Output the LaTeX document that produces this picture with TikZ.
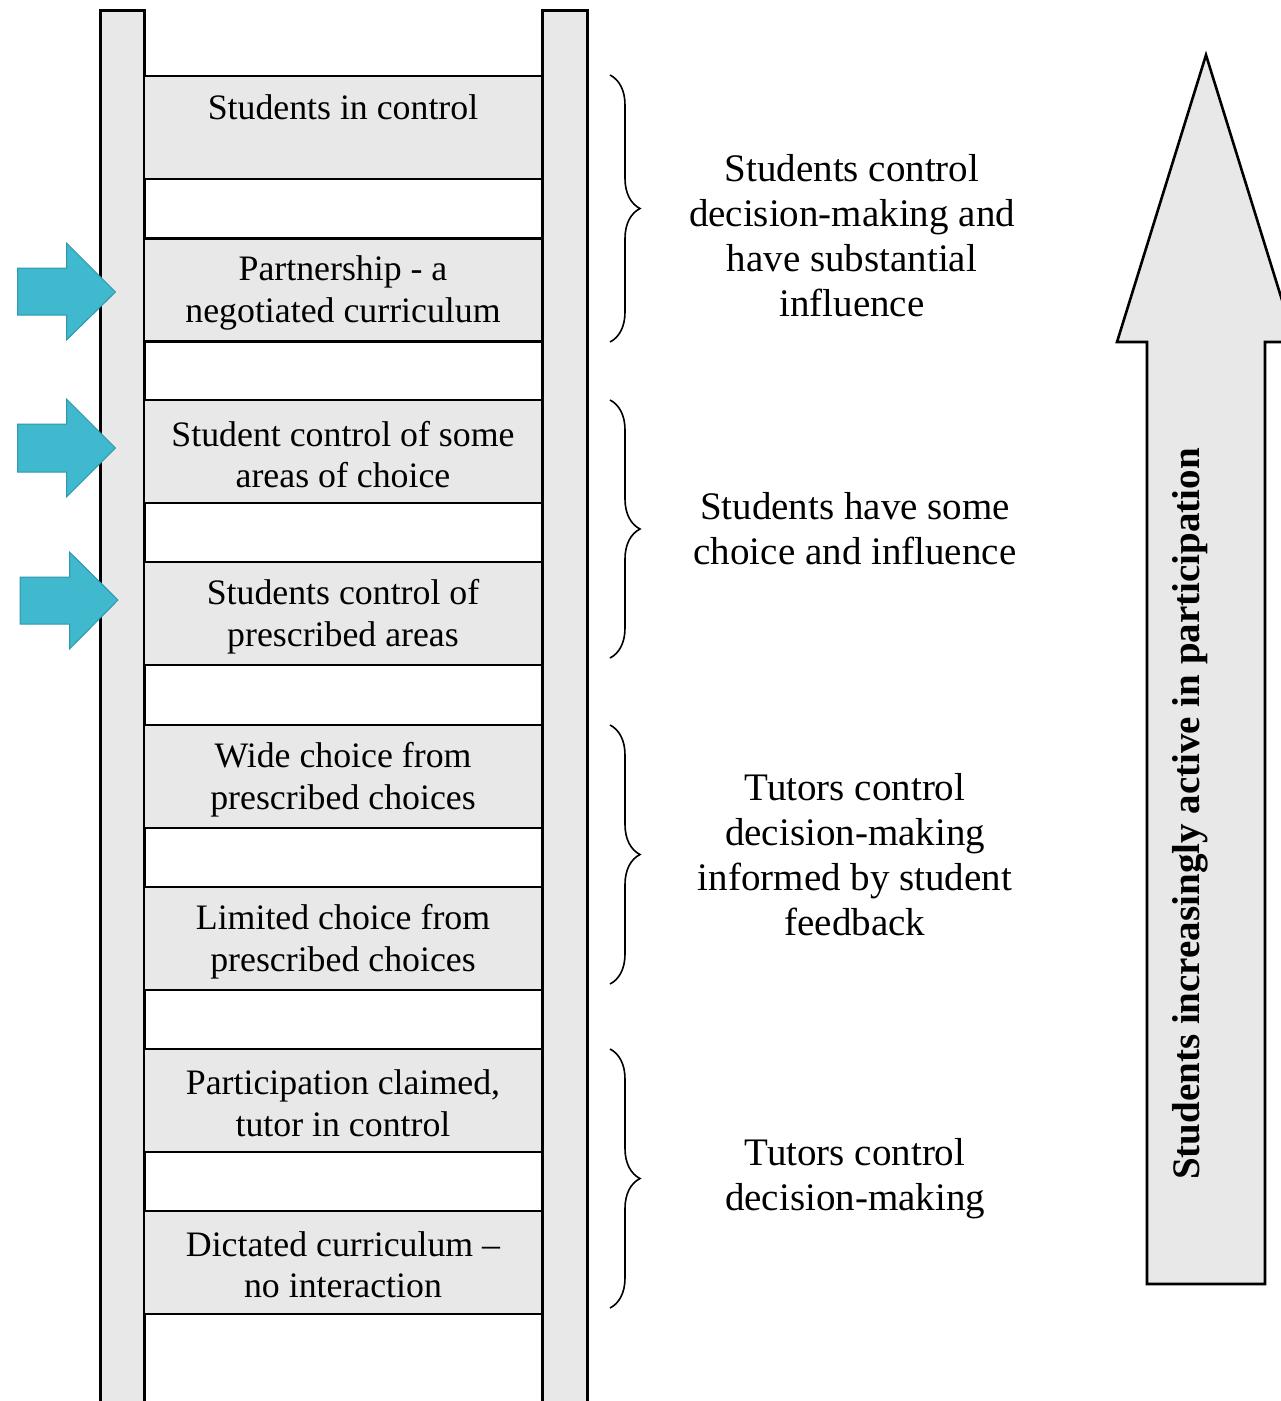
\documentclass[tikz,border=0pt]{standalone}
\usepackage{fontspec}
\setmainfont{Liberation Serif}
\usetikzlibrary{decorations.pathreplacing}
\definecolor{rungfill}{HTML}{E8E8E8}
\definecolor{arrowblue}{HTML}{40B8CE}
\definecolor{arrowedge}{HTML}{2E97AD}
\begin{document}
\begin{tikzpicture}[x=1pt,y=-1pt,
  rail/.style={draw=black,line width=3pt,fill=rungfill},
  rungbox/.style={draw=black,line width=2.6pt,fill=rungfill,minimum width=398pt,minimum height=103pt,inner sep=0pt},
  rungtext/.style={inner sep=0pt,align=center,font=\fontsize{35.8}{41.5}\selectfont},
  sidetext/.style={inner sep=0pt,align=center,font=\fontsize{39}{45}\selectfont},
  bracestyle/.style={draw=black,line width=1.6pt,decorate,decoration={brace,amplitude=30pt}},
  bluearrow/.style={fill=arrowblue,draw=arrowedge,line width=1pt,line join=miter},
  bigarrow/.style={fill=rungfill,draw=black,line width=2.6pt,line join=miter}
]
\useasboundingbox (0,0) rectangle (1281,1401);
\fill[white] (0,0) rectangle (1281,1401);
\clip (0,0) rectangle (1281,1401);

% rails
\draw[rail] (100,10) rectangle (144,1420);
\draw[rail] (542,10) rectangle (587,1420);

% rungs
\node[rungbox] (r1) at (343,127.5) {};
\node[rungbox] (r2) at (343,290) {};
\node[rungbox] (r3) at (343,451.5) {};
\node[rungbox] (r4) at (343,613.5) {};
\node[rungbox] (r5) at (343,776.5) {};
\node[rungbox] (r6) at (343,938.5) {};
\node[rungbox] (r7) at (343,1100.5) {};
\node[rungbox] (r8) at (343,1262.5) {};

\node[rungtext] (t1) at (343,107) {Students in control};
\node[rungtext] (t2) at (343,293) {Partnership - a\\negotiated curriculum};
\node[rungtext] (t3) at (343,454.5) {Student control of some\\areas of choice};
\node[rungtext] (t4) at (343,616.5) {Students control of\\prescribed areas};
\node[rungtext] (t5) at (343,779.5) {Wide choice from\\prescribed choices};
\node[rungtext] (t6) at (343,941.5) {Limited choice from\\prescribed choices};
\node[rungtext] (t7) at (343,1103) {Participation claimed,\\tutor in control};
\node[rungtext] (t8) at (343,1264.5) {Dictated curriculum --\\no interaction};

% braces
\coordinate (b1a) at (610,75);   \coordinate (b1b) at (610,342);
\coordinate (b2a) at (610,400);  \coordinate (b2b) at (610,658);
\coordinate (b3a) at (610,725);  \coordinate (b3b) at (610,984);
\coordinate (b4a) at (610,1049); \coordinate (b4b) at (610,1308);
\draw[bracestyle] (b1a) -- (b1b);
\draw[bracestyle] (b2a) -- (b2b);
\draw[bracestyle] (b3a) -- (b3b);
\draw[bracestyle] (b4a) -- (b4b);

% side texts
\node[sidetext] (s1) at (852,235.5) {Students control\\decision-making and\\have substantial\\influence};
\node[sidetext] (s2) at (855,529) {Students have some\\choice and influence};
\node[sidetext] (s3) at (855,854.5) {Tutors control\\decision-making\\informed by student\\feedback};
\node[sidetext] (s4) at (855,1178.5) {Tutors control\\decision-making};

% blue arrows
\draw[bluearrow] (17.5,268) -- (66.5,268) -- (66.5,243) -- (115.5,292) -- (66.5,340) -- (66.5,315) -- (17.5,315) -- cycle;
\draw[bluearrow] (17.5,424) -- (66.5,424) -- (66.5,399) -- (115.5,448) -- (66.5,497) -- (66.5,472) -- (17.5,472) -- cycle;
\draw[bluearrow] (20,577) -- (69.5,577) -- (69.5,552) -- (118,600) -- (69.5,649) -- (69.5,624) -- (20,624) -- cycle;

% big arrow
\draw[bigarrow] (1147,1284) -- (1147,342) -- (1117,342) -- (1206,55) -- (1295,342) -- (1265,342) -- (1265,1284) -- cycle;
\node[rotate=90,inner sep=0pt,font=\bfseries\fontsize{39}{45}\selectfont] (vt) at (1190,814) {Students increasingly active in participation};
\end{tikzpicture}
\end{document}
